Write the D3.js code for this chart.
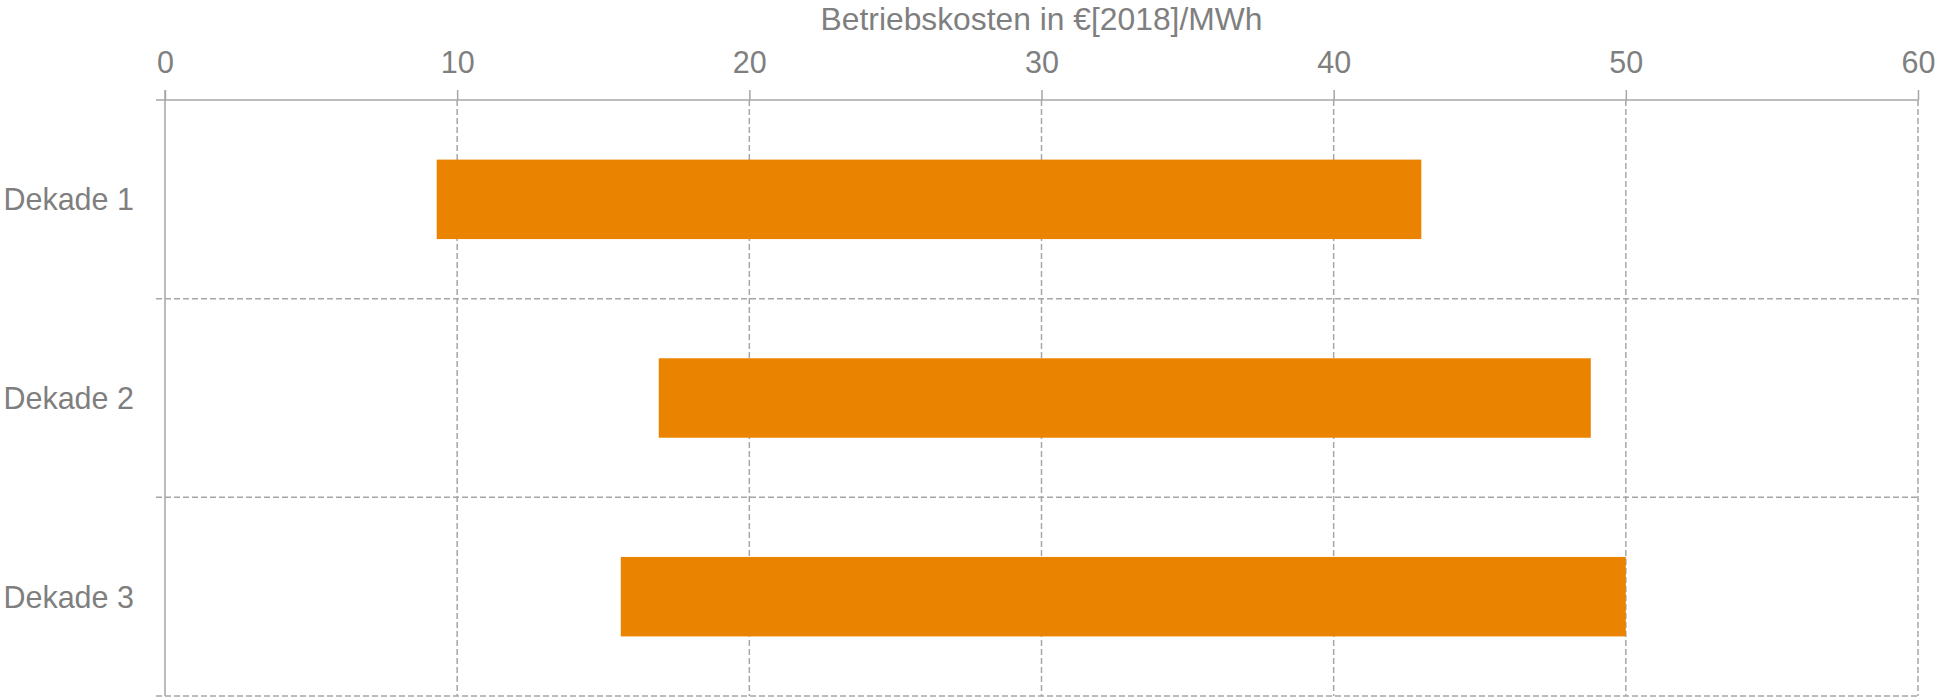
<!DOCTYPE html>
<html>
<head>
<meta charset="utf-8">
<script src="https://cdn.jsdelivr.net/npm/d3@7"></script>
<style>
  html, body { margin: 0; padding: 0; background: #ffffff; }
  svg { display: block; }
  text { font-family: "Liberation Sans", Arial, Helvetica, sans-serif; fill: #7f7f7f; }
</style>
</head>
<body>
<script>
// ---- data ----
const categories = ["Dekade 1", "Dekade 2", "Dekade 3"];
const minValues = [9.3, 16.9, 15.6];
const maxValues = [43.0, 48.8, 50.0];
const tickValues = [0, 10, 20, 30, 40, 50, 60];
const axisTitle = "Betriebskosten in €[2018]/MWh";

// ---- layout ----
const W = 1935, H = 699;
const mLeft = 165, mRight = 1918, mTop = 100, mBottom = 696;
const gridColor = "#a6a6a6";
const barColor = "#e98300";

const svg = d3.select("body").append("svg").attr("width", W).attr("height", H);

const x = d3.scaleLinear().domain([0, 60]).range([mLeft, mRight]);
const y = d3.scaleBand().domain(categories).range([mTop, mBottom]).padding(0);
const barH = y.bandwidth() * 0.4;

// vertical dashed gridlines
svg.append("g").selectAll("line").data(tickValues.filter(d => d > 0)).join("line")
  .attr("x1", d => x(d)).attr("x2", d => x(d))
  .attr("y1", mTop).attr("y2", mBottom)
  .attr("stroke", gridColor).attr("stroke-width", 1.5).attr("stroke-dasharray", "6,3");

// horizontal dashed band boundaries (incl. bottom)
const bounds = categories.map(c => y(c) + y.bandwidth());
svg.append("g").selectAll("line").data(bounds).join("line")
  .attr("x1", mLeft - 9).attr("x2", mRight)
  .attr("y1", d => d).attr("y2", d => d)
  .attr("stroke", gridColor).attr("stroke-width", 1.5).attr("stroke-dasharray", "6,3");

// bars
svg.append("g").selectAll("rect").data(categories).join("rect")
  .attr("x", (d, i) => x(minValues[i]))
  .attr("width", (d, i) => x(maxValues[i]) - x(minValues[i]))
  .attr("y", d => y(d) + (y.bandwidth() - barH) / 2)
  .attr("height", barH)
  .attr("fill", barColor);

// top axis
const xAxis = d3.axisTop(x).tickValues(tickValues).tickSize(10).tickPadding(17).tickSizeOuter(0)
  .tickFormat(d3.format("d"));
const gx = svg.append("g").attr("transform", `translate(0,${mTop})`).call(xAxis);
gx.select(".domain").remove();
gx.selectAll(".tick line").attr("stroke", gridColor).attr("stroke-width", 1.5);
gx.selectAll(".tick text").attr("font-size", 30.5).attr("fill", "#7f7f7f")
  .style("font-family", '"Liberation Sans", Arial, sans-serif');
gx.append("line").attr("x1", mLeft - 9).attr("x2", mRight).attr("y1", 0).attr("y2", 0)
  .attr("stroke", gridColor).attr("stroke-width", 1.5);

// left axis line
svg.append("line").attr("x1", mLeft).attr("x2", mLeft).attr("y1", mTop - 10).attr("y2", mBottom)
  .attr("stroke", gridColor).attr("stroke-width", 1.5);

// category labels
svg.append("g").selectAll("text").data(categories).join("text")
  .attr("x", mLeft - 31)
  .attr("y", d => y(d) + y.bandwidth() / 2)
  .attr("dy", "0.36em")
  .attr("text-anchor", "end")
  .attr("font-size", 30.5)
  .text(d => d);

// axis title
svg.append("text")
  .attr("x", (mLeft + mRight) / 2).attr("y", 30)
  .attr("text-anchor", "middle")
  .attr("font-size", 31.8)
  .text(axisTitle);
</script>
</body>
</html>
